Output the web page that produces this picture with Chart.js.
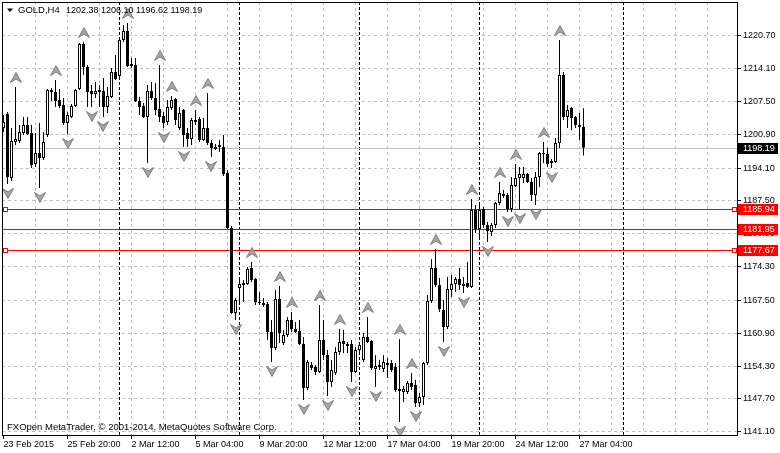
<!DOCTYPE html>
<html><head><meta charset="utf-8">
<script src="https://cdn.jsdelivr.net/npm/chart.js@4.4.1/dist/chart.umd.min.js"></script>
<style>html,body{margin:0;padding:0;background:#fff;overflow:hidden}#wrap{width:780px;height:453px;position:relative}</style>
</head><body><div id="wrap"><canvas id="c" width="780" height="453"></canvas></div>
<script>
// ---- data (GOLD, H4) ----
const opens = [1202.15,1204.97,1192.10,1199.34,1199.54,1201.15,1202.76,1201.15,1194.92,1197.13,
1196.12,1200.75,1209.79,1209.39,1207.78,1206.77,1203.16,1204.36,1206.57,1209.99,
1219.04,1214.41,1209.59,1208.99,1209.79,1209.59,1206.37,1208.38,1213.41,1212.60,
1219.84,1221.65,1215.02,1214.82,1207.58,1206.57,1204.36,1209.59,1208.18,1205.97,
1204.56,1203.36,1206.17,1207.98,1202.15,1205.77,1201.15,1199.94,1203.36,1203.96,
1199.74,1202.15,1199.14,1197.93,1198.74,1198.33,1193.11,1182.05,1164.97,1169.99,
1170.99,1170.80,1174.01,1171.80,1167.18,1166.98,1166.78,1161.15,1157.93,1167.78,
1158.94,1160.55,1163.56,1161.75,1161.35,1158.74,1149.89,1154.52,1154.11,1153.11,
1159.54,1156.52,1151.10,1152.91,1157.13,1159.34,1158.74,1158.74,1153.11,1157.53,
1155.52,1160.14,1159.34,1153.71,1154.52,1153.71,1154.52,1154.92,1154.11,1149.69,
1149.09,1149.09,1150.90,1150.50,1146.88,1148.08,1154.92,1167.38,1174.01,1170.59,
1165.57,1162.15,1169.59,1170.80,1171.80,1170.80,1170.99,1170.19,1185.67,1181.85,
1185.87,1182.66,1181.25,1182.66,1187.08,1188.48,1188.68,1185.87,1190.49,1192.10,
1192.10,1192.91,1191.30,1188.68,1192.30,1197.13,1196.93,1195.12,1195.32,1199.14,
1212.81,1204.36,1206.17,1204.36,1202.76,1202.38];
const highs = [1204.77,1205.37,1202.15,1210.39,1202.76,1204.36,1204.36,1202.76,1201.15,1203.16,
1201.35,1209.99,1210.19,1211.80,1209.99,1208.18,1205.37,1206.98,1209.99,1219.24,
1219.44,1214.82,1210.80,1211.40,1210.80,1212.20,1210.39,1214.21,1216.83,1220.24,
1222.86,1223.26,1216.22,1216.22,1208.38,1207.18,1210.80,1211.40,1211.20,1214.82,
1205.37,1207.78,1208.58,1208.18,1206.37,1205.97,1202.15,1204.16,1205.77,1204.36,
1204.16,1209.19,1199.74,1198.94,1199.74,1200.75,1193.71,1182.45,1167.98,1172.20,
1171.60,1174.21,1175.22,1172.00,1169.19,1167.98,1167.18,1163.56,1169.59,1170.39,
1161.55,1164.16,1165.17,1163.16,1163.56,1160.14,1155.52,1155.12,1154.52,1166.57,
1163.56,1157.53,1155.52,1158.13,1161.75,1161.55,1159.14,1159.54,1158.13,1158.94,
1160.95,1164.16,1159.54,1156.52,1155.52,1156.52,1155.92,1155.52,1154.92,1159.74,
1150.29,1151.30,1152.91,1151.50,1148.89,1155.12,1168.58,1175.82,1177.83,1172.00,
1167.58,1172.20,1172.61,1172.20,1174.01,1172.20,1175.22,1187.88,1186.67,1187.28,
1186.27,1183.26,1183.06,1187.28,1191.30,1189.69,1189.09,1192.30,1194.92,1194.31,
1194.31,1193.11,1192.10,1193.31,1197.33,1199.34,1198.13,1195.92,1200.14,1219.84,
1213.41,1206.77,1206.37,1204.56,1205.17,1206.10];
const lows = [1201.35,1190.90,1191.50,1198.74,1199.14,1200.75,1200.75,1194.11,1194.31,1190.09,
1195.72,1200.34,1207.58,1206.37,1206.17,1202.76,1200.95,1204.16,1206.37,1209.79,
1212.81,1206.37,1206.37,1208.18,1206.37,1204.36,1205.17,1208.18,1211.80,1212.40,
1219.44,1214.41,1214.21,1207.38,1204.77,1204.16,1195.12,1207.78,1204.77,1203.36,
1202.15,1202.76,1205.77,1202.76,1201.75,1198.33,1198.33,1198.74,1202.76,1199.34,
1199.54,1198.74,1196.32,1197.73,1197.33,1192.50,1181.85,1164.77,1163.56,1167.18,
1167.18,1170.59,1171.20,1166.57,1166.57,1166.17,1159.54,1155.12,1157.53,1158.94,
1158.53,1160.14,1161.15,1160.95,1158.53,1147.48,1149.49,1153.51,1152.51,1152.91,
1155.52,1148.28,1150.09,1152.51,1156.52,1156.93,1156.93,1151.10,1152.91,1156.93,
1155.12,1158.94,1153.51,1150.09,1153.51,1153.11,1151.90,1153.11,1149.09,1143.06,
1147.08,1148.69,1149.49,1146.07,1146.07,1146.47,1154.52,1166.98,1170.19,1165.17,
1159.14,1161.75,1168.18,1169.19,1169.59,1168.99,1169.99,1169.99,1181.05,1180.04,
1182.05,1179.24,1180.44,1182.05,1186.67,1188.08,1185.27,1185.27,1190.29,1185.87,
1191.10,1191.10,1187.48,1186.67,1190.29,1195.12,1194.31,1194.11,1195.12,1198.13,
1203.76,1202.15,1201.75,1202.15,1199.74,1196.62];
const closes = [1203.36,1192.30,1199.54,1199.94,1201.35,1202.76,1200.95,1194.72,1197.13,1196.12,
1199.34,1209.79,1209.39,1207.58,1206.57,1203.16,1204.77,1206.57,1209.79,1219.04,
1214.41,1209.39,1208.99,1209.59,1209.39,1206.37,1208.58,1213.41,1212.00,1219.84,
1221.65,1214.61,1214.61,1207.58,1206.37,1204.36,1209.59,1208.18,1205.77,1204.36,
1203.16,1206.37,1207.78,1203.76,1205.17,1200.75,1199.94,1203.76,1203.76,1199.74,
1202.15,1199.14,1198.13,1198.33,1198.33,1192.91,1182.05,1164.97,1167.58,1170.80,
1170.59,1173.81,1171.60,1167.18,1166.98,1166.57,1161.15,1157.93,1167.78,1160.95,
1160.55,1163.56,1161.75,1161.15,1158.74,1149.89,1155.12,1153.91,1153.11,1159.54,
1156.52,1151.10,1153.51,1157.13,1159.14,1158.74,1158.33,1153.11,1157.53,1158.53,
1160.14,1159.14,1153.91,1154.31,1154.11,1155.12,1154.92,1153.51,1149.49,1149.29,
1149.69,1150.90,1150.09,1146.88,1148.08,1154.92,1167.38,1174.01,1170.59,1165.77,
1162.15,1169.79,1170.80,1171.80,1170.59,1170.39,1170.19,1185.67,1181.85,1185.67,
1182.66,1181.45,1182.66,1187.08,1189.09,1188.89,1185.87,1190.70,1192.10,1192.91,
1192.91,1191.30,1188.68,1192.30,1197.13,1196.93,1194.92,1195.52,1199.14,1212.81,
1204.36,1205.77,1204.16,1202.76,1202.35,1198.19];

// bar indices carrying fractal arrows
const fractalUp = [3,13,20,31,39,42,48,51,62,69,72,79,84,91,99,102,108,117,124,128,135,139];
const fractalDown = [1,9,16,22,25,36,40,45,52,58,67,75,81,87,93,99,103,110,115,121,126,129,133,137];

// x axis (bar index) labels
const xTickBars = [0,16,32,48,64,80,96,112,128,144];
const xTickLabels = ['23 Feb 2015','25 Feb 20:00','2 Mar 12:00','5 Mar 04:00','9 Mar 20:00','12 Mar 12:00','17 Mar 04:00','19 Mar 20:00','24 Mar 12:00','27 Mar 04:00'];
const xGridStep = 8;
const xGridLast = 176;

// y axis labels
const yTickValues = [1220.70,1214.10,1207.50,1200.90,1194.10,1187.50,1180.90,1174.30,1167.50,1160.90,1154.30,1147.70,1141.10];
const yTickLabels = ['1220.70','1214.10','1207.50','1200.90','1194.10','1187.50','1180.90','1174.30','1167.50','1160.90','1154.30','1147.70','1141.10'];

// objects on chart
const separatorBars = [29,59,89,119,155];
const levelPrices = [1185.94,1181.95,1177.67];
const levelAnchors = [true,false,true];
const bidPrice = 1198.19;
const headerSymbol = 'GOLD,H4';
const headerOHLC = [1202.38,1206.10,1196.62,1198.19];
const copyrightText = 'FXOpen MetaTrader, \u00A9 2001-2014, MetaQuotes Software Corp.';

// ---- chart ----
const FONT = "'Liberation Sans', Arial, sans-serif";
const idx = opens.map((_, i) => i);
const wickData = idx.map(i => ({x: i, y: [lows[i], highs[i]]}));
const bodyData = idx.map(i => ({x: i, y: [opens[i], closes[i]]}));
const bodyFill = idx.map(i => closes[i] > opens[i] ? '#ffffff' : '#000000');
const gridBars = [];
for (let v = 0; v <= xGridLast; v += xGridStep) gridBars.push(v);

function drawArrow(ctx, cx, cy, up) {
  const s = up ? 1 : -1;
  ctx.beginPath();
  ctx.moveTo(cx, cy - 5.5 * s);
  ctx.lineTo(cx + 5.5, cy + 4.5 * s);
  ctx.lineTo(cx, cy + 1 * s);
  ctx.lineTo(cx - 5.5, cy + 4.5 * s);
  ctx.closePath();
  ctx.fillStyle = '#a6a6a6';
  ctx.fill();
  ctx.lineWidth = 1;
  ctx.strokeStyle = '#7c7c7c';
  ctx.stroke();
}

const overlay = {
  id: 'overlay',
  beforeDatasetsDraw(chart) {
    const {ctx, chartArea: a, scales: {x, y}} = chart;
    ctx.save();
    ctx.beginPath(); ctx.rect(a.left, a.top, a.right - a.left, a.bottom - a.top); ctx.clip();
    ctx.lineWidth = 1;
    // weekly separators
    ctx.strokeStyle = '#000'; ctx.setLineDash([3, 2]);
    separatorBars.forEach(b => {
      const px = Math.round(x.getPixelForValue(b) - 0.5) + 0.5;
      ctx.beginPath(); ctx.moveTo(px, a.top); ctx.lineTo(px, a.bottom); ctx.stroke();
    });
    ctx.setLineDash([]);
    // bid line
    const by = Math.round(y.getPixelForValue(bidPrice)) + 0.5;
    ctx.strokeStyle = '#c0c0c0';
    ctx.beginPath(); ctx.moveTo(a.left, by); ctx.lineTo(a.right, by); ctx.stroke();
    // levels
    ctx.strokeStyle = '#ff0000';
    levelPrices.forEach(p => {
      const py = Math.round(y.getPixelForValue(p)) + 0.5;
      ctx.beginPath(); ctx.moveTo(a.left, py); ctx.lineTo(a.right, py); ctx.stroke();
    });
    ctx.restore();
  },
  afterDatasetsDraw(chart) {
    const {ctx, chartArea: a, scales: {x, y}} = chart;
    ctx.save();
    ctx.beginPath(); ctx.rect(a.left, a.top, a.right - a.left, a.bottom - a.top); ctx.clip();
    fractalUp.forEach(k => drawArrow(ctx, Math.round(x.getPixelForValue(k)) , y.getPixelForValue(highs[k]) - 9, true));
    fractalDown.forEach(k => drawArrow(ctx, Math.round(x.getPixelForValue(k)), y.getPixelForValue(lows[k]) + 9, false));
    // anchor squares
    ctx.lineWidth = 1; ctx.strokeStyle = '#ff0000'; ctx.fillStyle = '#ffffff';
    levelPrices.forEach((p, i) => {
      if (!levelAnchors[i]) return;
      const cy = Math.round(y.getPixelForValue(p));
      [a.left + 1.5, a.right - 5.5].forEach(sx => {
        ctx.fillRect(sx, cy - 1.5, 4, 4);
        ctx.strokeRect(sx, cy - 1.5, 4, 4);
      });
    });
    ctx.restore();
  },
  afterDraw(chart) {
    const {ctx, chartArea: a, scales: {y}} = chart;
    ctx.save();
    // frame
    ctx.strokeStyle = '#000'; ctx.lineWidth = 1;
    ctx.strokeRect(a.left + 0.5, a.top + 0.5, a.right - a.left - 1, a.bottom - a.top - 1);
    // price boxes
    ctx.font = '9px ' + FONT; ctx.textBaseline = 'middle'; ctx.textAlign = 'left';
    const box = (p, bg) => {
      const cy = Math.round(y.getPixelForValue(p));
      ctx.fillStyle = bg; ctx.fillRect(a.right, cy - 5, 40, 11);
      ctx.fillStyle = '#ffffff'; ctx.fillText(p.toFixed(2), a.right + 5, cy + 0.5);
    };
    box(bidPrice, '#000000');
    levelPrices.forEach(p => box(p, '#ff0000'));
    // header
    ctx.fillStyle = '#000';
    ctx.beginPath(); ctx.moveTo(7, 8.5); ctx.lineTo(13, 8.5); ctx.lineTo(10, 12); ctx.closePath(); ctx.fill();
    ctx.font = '9.5px ' + FONT;
    ctx.fillText(headerSymbol, 18, 10.5);
    ctx.font = '9px ' + FONT;
    ctx.fillText(headerOHLC.map(v => v.toFixed(2)).join(' '), 66, 10.5);
    // copyright
    ctx.font = '9.5px ' + FONT;
    ctx.fillText(copyrightText, 7, 427.5);
    ctx.restore();
  }
};

new Chart(document.getElementById('c'), {
  type: 'bar',
  data: {
    datasets: [
      {label: 'body', data: bodyData, backgroundColor: bodyFill, borderColor: '#000000', borderWidth: 1,
       borderSkipped: false, barThickness: 3, grouped: false, order: 1, minBarLength: 1, inflateAmount: 0},
      {label: 'wick', data: wickData, backgroundColor: '#000000', borderWidth: 0,
       barThickness: 1, grouped: false, order: 2, inflateAmount: 0}
    ]
  },
  options: {
    responsive: false, animation: false, events: [], devicePixelRatio: 1,
    layout: {padding: {left: 2, top: 2, right: 0, bottom: 0}},
    plugins: {legend: {display: false}, tooltip: {enabled: false}},
    scales: {
      x: {
        type: 'linear', min: -0.375, max: 183.625, offset: false, position: 'bottom',
        afterBuildTicks: s => { s.ticks = gridBars.map(v => ({value: v})); },
        afterFit: s => { s.height = 17; s.paddingLeft = 0; s.paddingRight = 0; },
        ticks: {autoSkip: false, maxRotation: 0, minRotation: 0, align: 'start', padding: 0, color: '#000',
          font: {family: FONT, size: 9},
          callback: v => { const j = xTickBars.indexOf(v); return j >= 0 ? xTickLabels[j] : ''; }},
        grid: {offset: false, lineWidth: 1, tickLength: 3,
          color: c => (c.tick && c.tick.value > 0) ? '#c0c0c0' : 'rgba(0,0,0,0)',
          tickColor: c => (c.tick && xTickBars.includes(c.tick.value)) ? '#000000' : 'rgba(0,0,0,0)'},
        border: {display: false, dash: [3, 3]}
      },
      y: {
        type: 'linear', position: 'right', min: 1140.244, max: 1227.478,
        afterBuildTicks: s => { s.ticks = yTickValues.map(v => ({value: v})); },
        afterFit: s => { s.width = 42; s.paddingTop = 0; s.paddingBottom = 0; },
        ticks: {padding: 2, color: '#000', font: {family: FONT, size: 9},
          callback: v => { const j = yTickValues.indexOf(v); return j >= 0 ? yTickLabels[j] : ''; }},
        grid: {color: '#c0c0c0', lineWidth: 1, tickLength: 3, tickColor: '#000000'},
        border: {display: false, dash: [3, 3]}
      }
    }
  },
  plugins: [overlay]
});
</script>
</body></html>
